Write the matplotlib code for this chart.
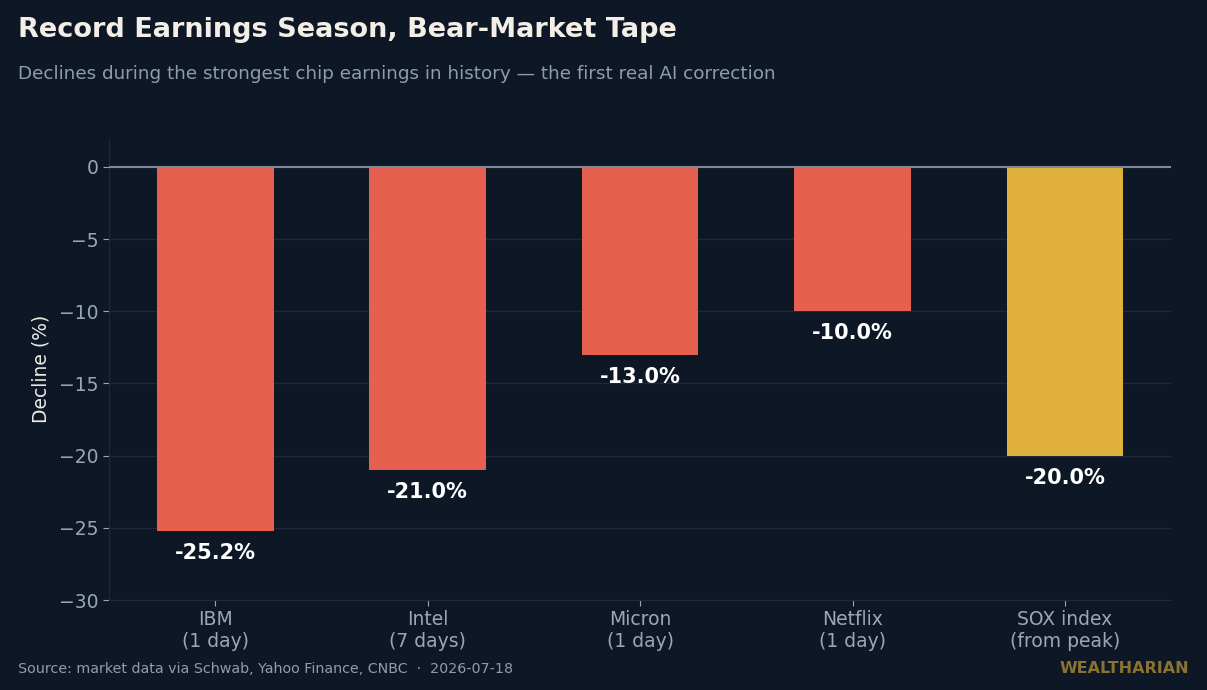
import matplotlib
matplotlib.use("Agg")
import matplotlib.pyplot as plt

categories = ["IBM\n(1 day)", "Intel\n(7 days)", "Micron\n(1 day)", "Netflix\n(1 day)", "SOX index\n(from peak)"]
declines = [-25.2, -21.0, -13.0, -10.0, -20.0]
bar_colors = ["#E5604F", "#E5604F", "#E5604F", "#E5604F", "#DFB13C"]

BG = "#0E1726"
fig = plt.figure(figsize=(12.07, 6.90), dpi=100, facecolor=BG)
ax = fig.add_axes([0.0903, 0.1304, 0.8800, 0.6696], facecolor=BG)

x = list(range(len(categories)))
ax.bar(x, declines, width=0.55, color=bar_colors, zorder=3)
ax.axhline(0, color="#7D8C9C", linewidth=1.5, zorder=4)

for xi, v in zip(x, declines):
    ax.annotate(f"{v:.1f}%", xy=(xi, v), xytext=(0, -16), textcoords="offset points",
                ha="center", va="center", color="#FFFFFF", fontsize=15, fontweight="bold", zorder=5)

ax.set_xlim(-0.5, 4.5)
ax.set_ylim(-30, 2)
ax.set_yticks([0, -5, -10, -15, -20, -25, -30])
ax.set_xticks(x)
ax.set_xticklabels(categories)
ax.grid(axis="y", color="#1E2A3A", linewidth=1, zorder=0)
ax.tick_params(colors="#9AA8B6", labelsize=13.5, length=4)
for lbl in ax.get_xticklabels() + ax.get_yticklabels():
    lbl.set_color("#9AA8B6")
for s in ["top", "right"]:
    ax.spines[s].set_visible(False)
for s in ["left", "bottom"]:
    ax.spines[s].set_color("#1E2A3A")
ax.set_ylabel("Decline (%)", color="#EDEBE5", fontsize=13.5, labelpad=6)

fig.text(0.015, 0.957, "Record Earnings Season, Bear-Market Tape", color="#F3EFE6",
         fontsize=19.5, fontweight="bold", ha="left", va="center")
fig.text(0.015, 0.893, "Declines during the strongest chip earnings in history \u2014 the first real AI correction",
         color="#8E9DAC", fontsize=13.2, ha="left", va="center")
fig.text(0.015, 0.031, "Source: market data via Schwab, Yahoo Finance, CNBC  \u00b7  2026-07-18",
         color="#8E9DAC", fontsize=10.3, ha="left", va="center")
fig.text(0.985, 0.031, "WEALTHARIAN", color="#8A7230", fontsize=11.5, fontweight="bold",
         ha="right", va="center")

fig.savefig("out.png", dpi=100, facecolor=BG)
